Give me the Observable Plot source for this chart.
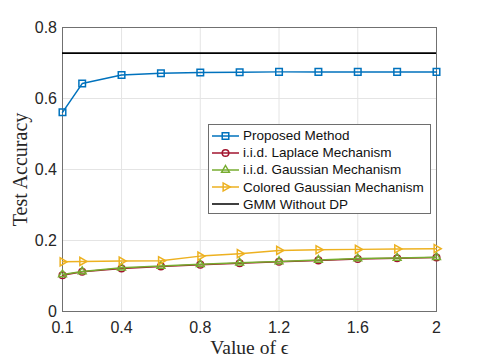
<!DOCTYPE html>
<html><head><meta charset="utf-8">
<script src="https://cdn.jsdelivr.net/npm/d3@7"></script>
<script src="https://cdn.jsdelivr.net/npm/@observablehq/plot@0.6"></script>
<style>
body{margin:0;background:#fff;}
#wrap{position:relative;width:482px;height:361px;overflow:hidden;}
#legend{position:absolute;left:208px;top:124px;width:221px;height:86px;border:1px solid #6e6e6e;background:#fff;padding-top:2px;box-sizing:content-box;font-family:'Liberation Sans',Arial,sans-serif;font-size:13.5px;color:#111;}
.row{height:17.2px;display:flex;align-items:center;white-space:nowrap;}
.row svg{margin-left:3px;margin-right:4px;flex:none;}
</style></head>
<body><div id="wrap"><div id="legend"></div></div>
<script>
const epsilon = [0.1, 0.2, 0.4, 0.6, 0.8, 1.0, 1.2, 1.4, 1.6, 1.8, 2.0];
const proposed = [0.561, 0.642, 0.666, 0.671, 0.673, 0.674, 0.675, 0.675, 0.675, 0.675, 0.675];
const laplace  = [0.102, 0.112, 0.121, 0.127, 0.132, 0.136, 0.140, 0.144, 0.148, 0.150, 0.152];
const gaussian = [0.104, 0.113, 0.123, 0.128, 0.133, 0.137, 0.141, 0.145, 0.149, 0.151, 0.153];
const colored  = [0.140, 0.141, 0.142, 0.143, 0.156, 0.163, 0.172, 0.174, 0.175, 0.176, 0.177];
const gmm = 0.728;
const xTicks = [0.1, 0.4, 0.8, 1.2, 1.6, 2];
const yTicks = [0, 0.2, 0.4, 0.6, 0.8];
const seriesNames = ["Proposed Method", "i.i.d. Laplace Mechanism", "i.i.d. Gaussian Mechanism", "Colored Gaussian Mechanism", "GMM Without DP"];
const colors = ["#0072BD", "#A2142F", "#77AC30", "#EDB120", "#000000"];

const triRight = {draw(ctx, size) {
  const a = Math.sqrt(size / Math.PI) * 1.2;
  ctx.moveTo(a, 0);
  ctx.lineTo(-a / 2, -a * 0.866);
  ctx.lineTo(-a / 2, a * 0.866);
  ctx.closePath();
}};
const triUp = {draw(ctx, size) {
  const a = Math.sqrt(size / Math.PI) * 1.25;
  ctx.moveTo(0, -a);
  ctx.lineTo(a * 0.866, a / 2);
  ctx.lineTo(-a * 0.866, a / 2);
  ctx.closePath();
}};
const symbols = [d3.symbolSquare, d3.symbolCircle, triUp, triRight, null];
const radii = [3.7, 3.3, 3.6, 3.9, 0];
const values = [proposed, laplace, gaussian, colored];

const rows = (vals) => epsilon.map((x, i) => ({x, y: vals[i]}));

const marks = [
  Plot.gridX(xTicks, {stroke: "#e4e4e4", strokeOpacity: 1}),
  Plot.gridY(yTicks, {stroke: "#e4e4e4", strokeOpacity: 1}),
  Plot.frame({stroke: "#707070", strokeWidth: 1}),
  Plot.axisX(xTicks, {tickSize: 0, tickPadding: 10, tickFormat: d => String(d), label: null, fontSize: 16}),
  Plot.axisY(yTicks, {tickSize: 0, tickPadding: 5.5, tickFormat: d => String(d), label: null, fontSize: 16}),
];
values.forEach((vals, k) => {
  marks.push(Plot.line(rows(vals), {x: "x", y: "y", stroke: colors[k], strokeWidth: 1.5}));
  marks.push(Plot.dot(rows(vals), {x: "x", y: "y", symbol: symbols[k], r: radii[k], stroke: colors[k], strokeWidth: 1.5, fill: "none"}));
});
marks.push(Plot.ruleY([gmm], {stroke: colors[4], strokeWidth: 1.8}));
marks.push(Plot.text(["Test Accuracy"], {text: d => d, frameAnchor: "left", textAnchor: "middle", rotate: -90, dx: -36, lineAnchor: "bottom", fontFamily: "'Liberation Serif', 'DejaVu Serif', serif", fontSize: 20, fill: "#262626"}));
marks.push(Plot.text(["Value of \u03F5"], {text: d => d, frameAnchor: "bottom", textAnchor: "middle", dy: 42, lineAnchor: "bottom", fontFamily: "'Liberation Serif', 'DejaVu Serif', serif", fontSize: 19.5, fill: "#262626"}));

const chart = Plot.plot({
  width: 482, height: 361,
  marginLeft: 62, marginRight: 46, marginTop: 27, marginBottom: 50,
  style: {fontFamily: "'Liberation Sans', Arial, sans-serif", fontSize: "16px", color: "#262626", background: "white", overflow: "visible"},
  x: {domain: [0.1, 2]},
  y: {domain: [0, 0.8]},
  marks
});
document.getElementById("wrap").prepend(chart);

const legend = document.getElementById("legend");
seriesNames.forEach((name, k) => {
  const row = document.createElement("div");
  row.className = "row";
  const svg = d3.create("svg").attr("width", 27).attr("height", 14);
  svg.append("line").attr("x1", 0).attr("x2", 27).attr("y1", 7).attr("y2", 7)
    .attr("stroke", colors[k]).attr("stroke-width", 1.5);
  if (symbols[k]) {
    const size = Math.PI * radii[k] * radii[k];
    svg.append("path").attr("d", d3.symbol(symbols[k], size)())
      .attr("transform", "translate(13.5,7)").attr("fill", "none")
      .attr("stroke", colors[k]).attr("stroke-width", 1.5);
  }
  row.appendChild(svg.node());
  const span = document.createElement("span");
  span.textContent = name;
  row.appendChild(span);
  legend.appendChild(row);
});
</script>
</body></html>
